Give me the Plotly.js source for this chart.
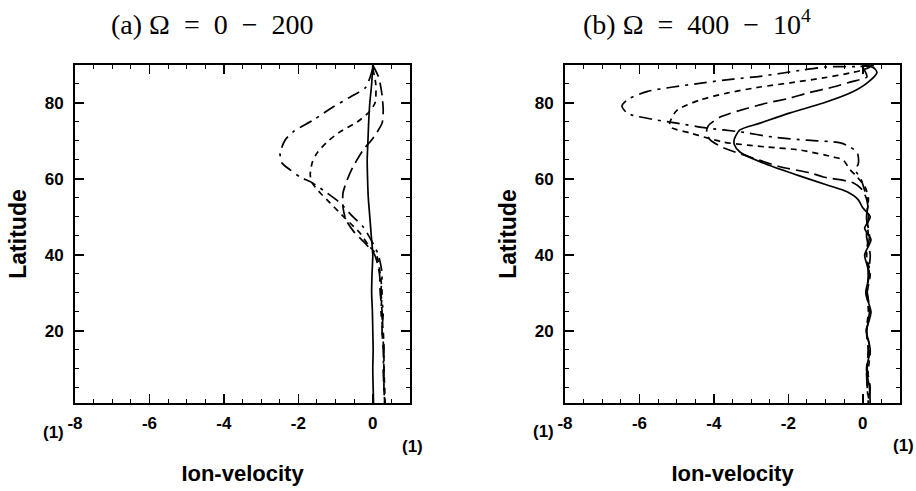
<!DOCTYPE html>
<html>
<head>
<meta charset="utf-8">
<script src="https://cdn.plot.ly/plotly-3.0.1.min.js"></script>
<style>html,body{margin:0;padding:0;background:#fff;}#plot{width:916px;height:491px;}</style>
</head>
<body>
<div id="plot"></div>
<script>
// ---------- Panel (a): Omega = 0 - 200 ----------
const aSolidLat = [90, 85, 80, 75, 70, 65, 60, 55, 50, 45, 40, 35, 30, 25, 20, 15, 10, 5, 1];
const aSolidVel = [0.0, -0.03, -0.08, -0.11, -0.13, -0.15, -0.14, -0.12, -0.08, -0.04, 0.0, -0.02, -0.03, -0.01, 0.0, 0.01, 0.0, 0.01, 0.02];

const aLongLat = [90, 87, 85, 82, 78, 74.7, 70.8, 67.6, 63.2, 59.7, 56.3, 52.6, 49.2, 46, 43, 40, 35, 30, 25, 20, 15, 10, 5, 1];
const aLongVel = [0.0, 0.15, 0.2, 0.25, 0.28, 0.25, 0.01, -0.26, -0.53, -0.69, -0.8, -0.8, -0.72, -0.5, -0.2, 0.05, 0.18, 0.2, 0.25, 0.25, 0.28, 0.3, 0.3, 0.32];

const aShortLat = [89, 85, 80, 77.4, 75, 72.4, 69.7, 66.8, 64.2, 61, 59, 56.3, 53.7, 51, 48.4, 45.7, 42.6, 40, 35, 30, 25, 20, 15, 10, 5, 1];
const aShortVel = [0.0, 0.08, 0.06, -0.12, -0.42, -0.88, -1.23, -1.5, -1.63, -1.68, -1.63, -1.41, -1.15, -0.88, -0.61, -0.34, -0.12, 0.1, 0.2, 0.25, 0.22, 0.28, 0.3, 0.3, 0.32, 0.33];

const aDashDotLat = [89, 86, 84, 81.6, 79, 75.5, 72.4, 70.3, 66.8, 64.2, 62.4, 60.5, 59, 56.3, 53.7, 50, 47.4, 44, 40, 35, 30, 25, 20, 15, 10, 5, 1];
const aDashDotVel = [0.0, -0.1, -0.2, -0.6, -1.06, -1.6, -2.14, -2.35, -2.49, -2.44, -2.22, -1.95, -1.63, -1.23, -0.88, -0.53, -0.26, -0.05, 0.15, 0.25, 0.22, 0.28, 0.25, 0.3, 0.28, 0.3, 0.32];

// ---------- Panel (b): Omega = 400 - 10^4 ----------
const bSolidLat = [90, 89.2, 88, 85.3, 82.6, 80, 77.4, 74.7, 72.9, 70.5, 69, 67.1, 64.5, 61, 58.4, 56.6, 54.5, 52.4, 50, 47, 44, 40, 35, 30, 25, 20, 15, 10, 5, 1];
const bSolidVel = [0.0, 0.3, 0.38, 0.12, -0.34, -1.06, -1.95, -2.76, -3.3, -3.45, -3.45, -3.3, -2.76, -1.76, -0.96, -0.42, -0.12, 0.0, 0.2, 0.05, 0.22, 0.05, 0.18, 0.08, 0.22, 0.1, 0.2, 0.1, 0.18, 0.2];

const bLongLat = [89.5, 87.5, 86.8, 85.5, 84.2, 82.6, 81.3, 80, 78.6, 76.3, 74, 72, 70.3, 68.2, 66, 63.2, 61.6, 60.5, 59, 57, 54, 50, 45, 40, 35, 30, 25, 20, 15, 10, 5, 1];
const bLongVel = [0.0, 0.1, 0.11, -0.34, -0.8, -1.5, -1.95, -2.57, -3.1, -3.83, -4.15, -4.2, -4.1, -3.75, -3.1, -2.22, -1.41, -1.06, -0.26, 0.0, 0.12, 0.15, 0.1, 0.2, 0.15, 0.12, 0.18, 0.1, 0.15, 0.12, 0.2, 0.15];

const bShortLat = [89.5, 88.7, 87.9, 86.6, 85.3, 84.2, 82.6, 80.8, 78, 75, 73.7, 72.1, 70.8, 69.7, 68.9, 68.4, 67.6, 65.8, 65, 62.4, 60.5, 57.9, 55, 50, 45, 40, 35, 30, 25, 20, 15, 10, 5, 1];
const bShortVel = [0.2, 0.0, -0.34, -1.06, -1.95, -2.76, -3.65, -4.37, -5.0, -5.18, -5.18, -4.64, -4.18, -3.75, -3.1, -2.57, -1.68, -0.8, -0.53, -0.34, -0.15, 0.06, 0.15, 0.1, 0.15, 0.1, 0.2, 0.12, 0.15, 0.1, 0.2, 0.15, 0.12, 0.18];

const bDashDotLat = [89.8, 89.6, 89.5, 88.7, 87.9, 87, 86.3, 85.3, 84.2, 83, 81, 79.2, 77.5, 76.8, 75.5, 74.7, 73.4, 72.4, 71, 70.2, 69.5, 68.4, 67, 64, 62.4, 60, 57, 54, 50, 45, 40, 35, 30, 25, 20, 15, 10, 5, 1];
const bDashDotVel = [0.3, -0.15, -0.96, -1.6, -2.14, -2.76, -3.48, -4.29, -5.1, -5.8, -6.3, -6.47, -6.35, -6.2, -5.53, -5.0, -4.2, -3.3, -2.4, -1.5, -0.6, -0.34, -0.15, -0.12, -0.2, -0.05, 0.05, 0.15, 0.1, 0.18, 0.1, 0.15, 0.12, 0.2, 0.1, 0.15, 0.1, 0.12, 0.15];

// ---------- Axis ticks ----------
const xTickVals = [-8, -6, -4, -2, 0];
const xTickText = ['-8', '-6', '-4', '-2', '0'];
const yTickVals = [20, 40, 60, 80];
const yTickText = ['20', '40', '60', '80'];

const titleA = '(a) Ω\u2002=\u20020\u2002−\u2002200';
const titleB = '(b) Ω\u2002=\u2002400\u2002−\u200210<sup>4</sup>';
const xTitle = 'Ion-velocity';
const yTitle = 'Latitude';
const unitNote = '(1)';

const DASH_SOLID = 'solid';
const DASH_LONG = '13px,6px';
const DASH_SHORT = '6px,5px';
const DASH_DOTDASH = '13px,6px,3px,6px';

function tr(x, y, dash, xa, ya) {
  return {x: x, y: y, type: 'scatter', mode: 'lines', xaxis: xa, yaxis: ya,
    line: {color: '#000', width: 1.7, dash: dash, shape: 'spline', smoothing: 0.7},
    showlegend: false, hoverinfo: 'skip'};
}

const data = [
  tr(aSolidVel, aSolidLat, DASH_SOLID, 'x', 'y'),
  tr(aLongVel, aLongLat, DASH_LONG, 'x', 'y'),
  tr(aShortVel, aShortLat, DASH_SHORT, 'x', 'y'),
  tr(aDashDotVel, aDashDotLat, DASH_DOTDASH, 'x', 'y'),
  tr(bSolidVel, bSolidLat, DASH_SOLID, 'x2', 'y2'),
  tr(bLongVel, bLongLat, DASH_LONG, 'x2', 'y2'),
  tr(bShortVel, bShortLat, DASH_SHORT, 'x2', 'y2'),
  tr(bDashDotVel, bDashDotLat, DASH_DOTDASH, 'x2', 'y2')
];

const SANS = 'Liberation Sans, Arial, sans-serif';
const tickFont = {family: SANS, size: 17, color: '#000', weight: 900};
const xTitleFont = {family: SANS, size: 22, color: '#000', weight: 900};
const yTitleFont = {family: SANS, size: 23, color: '#000', weight: 900};

function xAxis(domain, anchor) {
  return {domain: domain, anchor: anchor, range: [-8, 1], tickmode: 'array',
    tickvals: xTickVals, ticktext: xTickText, ticks: 'inside', ticklen: 9, tickwidth: 1.5,
    tickcolor: '#000', showline: true, linewidth: 2, linecolor: '#000', mirror: 'ticks',
    showgrid: false, zeroline: false, tickfont: tickFont, ticklabelstandoff: 4,
    minor: {dtick: 0.5, tick0: 0, ticks: 'inside', ticklen: 4, tickwidth: 1, tickcolor: '#000', showgrid: false},
    title: {text: xTitle, font: xTitleFont, standoff: 33}};
}
function yAxis(domain, anchor) {
  return {domain: domain, anchor: anchor, range: [1, 90], tickmode: 'array',
    tickvals: yTickVals, ticktext: yTickText, ticks: 'inside', ticklen: 9, tickwidth: 1.5,
    tickcolor: '#000', showline: true, linewidth: 2, linecolor: '#000', mirror: 'ticks',
    showgrid: false, zeroline: false, tickfont: tickFont, ticklabelstandoff: 6,
    minor: {dtick: 5, tick0: 0, ticks: 'inside', ticklen: 4, tickwidth: 1, tickcolor: '#000', showgrid: false},
    title: {text: yTitle, font: yTitleFont, standoff: 12}};
}

const yDom = [1 - 403 / 491, 1 - 65 / 491];
const serifFont = {family: 'Liberation Serif, DejaVu Serif, serif', size: 28, color: '#000'};
const layout = {
  width: 916, height: 491,
  margin: {l: 0, r: 0, t: 0, b: 0},
  paper_bgcolor: '#fff', plot_bgcolor: '#fff',
  xaxis: xAxis([75 / 916, 410 / 916], 'y'),
  yaxis: yAxis(yDom, 'x'),
  xaxis2: xAxis([565 / 916, 900 / 916], 'y2'),
  yaxis2: yAxis(yDom, 'x2'),
  annotations: [
    {text: titleA, xref: 'paper', yref: 'paper', x: 212 / 916, y: 1 - 24 / 491, xanchor: 'center', yanchor: 'middle', showarrow: false, font: serifFont},
    {text: titleB, xref: 'paper', yref: 'paper', x: 697 / 916, y: 1 - 22 / 491, xanchor: 'center', yanchor: 'middle', showarrow: false, font: serifFont},
    {text: unitNote, xref: 'paper', yref: 'paper', x: 53 / 916, y: 1 - 432 / 491, xanchor: 'center', yanchor: 'middle', showarrow: false, font: tickFont},
    {text: unitNote, xref: 'paper', yref: 'paper', x: 412 / 916, y: 1 - 446 / 491, xanchor: 'center', yanchor: 'middle', showarrow: false, font: tickFont},
    {text: unitNote, xref: 'paper', yref: 'paper', x: 543 / 916, y: 1 - 431 / 491, xanchor: 'center', yanchor: 'middle', showarrow: false, font: tickFont},
    {text: unitNote, xref: 'paper', yref: 'paper', x: 903 / 916, y: 1 - 445 / 491, xanchor: 'center', yanchor: 'middle', showarrow: false, font: tickFont}
  ]
};

Plotly.newPlot('plot', data, layout, {staticPlot: true, displayModeBar: false});
</script>
</body>
</html>
